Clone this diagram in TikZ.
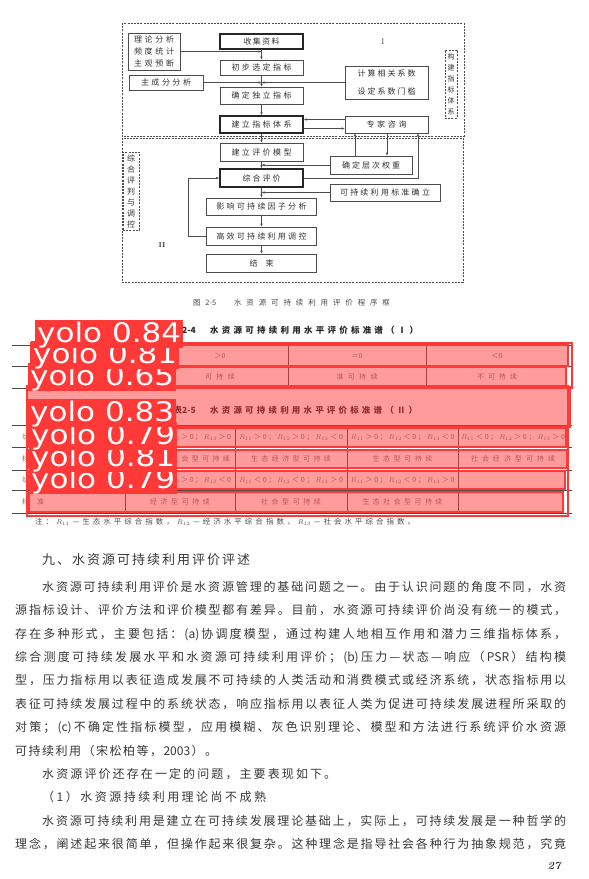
\documentclass[tikz,border=0pt]{standalone}
\usepackage{fontspec}
\usepackage{graphicx}
\usetikzlibrary{arrows.meta}
\newfontfamily\cjk{Noto Sans CJK SC}
\newfontfamily\tagfont{DejaVu Sans}
\definecolor{ink}{gray}{0.3}
\definecolor{yolored}{RGB}{255,56,56}
% spread a line of characters to a given width
\makeatletter
\def\spread@stop{\spread@end}
\newcommand\spread[2]{\makebox[#1][s]{\spread@first#2\spread@end}}
\def\spread@first#1{#1\spread@next}
\def\spread@next#1{\def\spread@cur{#1}\ifx\spread@cur\spread@stop\else\hfil#1\expandafter\spread@next\fi}
\makeatother
\tikzset{
  fbox/.style={draw=ink, line width=0.6pt, inner sep=0pt, text=black!80, font=\cjk\fontsize{8}{10}\selectfont},
  fboxb/.style={fbox, draw=black!85, line width=1.3pt},
  zone/.style={draw=ink, line width=0.7pt, dash pattern=on 2pt off 1.2pt},
  arr/.style={-{Latex[length=3pt,width=2.6pt]}, draw=ink, line width=0.6pt},
  cell/.style={inner sep=0pt, text=black!55, font=\cjk\fontsize{7}{8}\selectfont},
  body/.style={inner sep=0pt, anchor=base west, text=black!78, font=\cjk\fontsize{12}{14}\selectfont},
  rule/.style={draw=black!70, line width=0.5pt},
  hit/.style={draw=yolored, line width=2.6pt, fill=yolored, fill opacity=0.5},
  hitrim/.style={draw=yolored, line width=2.4pt},
  tag/.style={fill=yolored, text=white, anchor=north west, inner xsep=2pt, inner ysep=0pt, text height=22pt, text depth=6pt, font=\tagfont\fontsize{27}{27}\selectfont}
}
\begin{document}
\begin{tikzpicture}[x=1pt,y=-1pt]
\fill[white] (0,0) rectangle (589,879);
\useasboundingbox (0,0) rectangle (589,879);

% flow chart, part I
\draw[zone] (122,23) rectangle (464,136);
\draw[zone] (122,138) rectangle (463,282);
\node[fbox, minimum width=52pt, minimum height=37pt, align=left, font=\cjk\fontsize{8}{12}\selectfont] (theory) at (154,51.5) {\spread{40pt}{理论分析}\\\spread{40pt}{频度统计}\\\spread{40pt}{主观预断}};
\node[fboxb, minimum width=83pt, minimum height=15pt] (collect) at (261.5,41.5) {\spread{36pt}{收集资料}};
\node[fbox, minimum width=83pt, minimum height=15pt] (select) at (261.5,67.5) {\spread{60pt}{初步选定指标}};
\node[fbox, minimum width=74pt, minimum height=15pt] (pca) at (166,82.5) {\spread{50pt}{主成分分析}};
\node[fbox, minimum width=83pt, minimum height=33pt, align=center, font=\cjk\fontsize{8}{18}\selectfont] (corr) at (386.5,82.5) {\spread{58pt}{计算相关系数}\\\spread{58pt}{设定系数门槛}};
\node[fbox, minimum width=83pt, minimum height=17pt] (indep) at (261.5,95.5) {\spread{60pt}{确定独立指标}};
\node[fboxb, minimum width=83pt, minimum height=17pt] (system) at (261.5,124.5) {\spread{60pt}{建立指标体系}};
\node[fbox, minimum width=83pt, minimum height=17pt] (expert) at (386.5,124.5) {\spread{40pt}{专家咨询}};
\node[zone, minimum width=12pt, minimum height=68pt, inner sep=0pt, align=center, text=black!80, font=\cjk\fontsize{7}{11}\selectfont] (build) at (451,84) {构\\建\\指\\标\\体\\系};
\node[text=ink, inner sep=0pt, font=\fontsize{8}{8}\selectfont] (romanI) at (383,42) {I};

% flow chart, part II
\node[fbox, minimum width=83pt, minimum height=18pt] (model) at (261.5,152) {\spread{60pt}{建立评价模型}};
\node[fbox, minimum width=82pt, minimum height=18pt] (weight) at (371,165) {\spread{58pt}{确定层次权重}};
\node[fboxb, minimum width=83pt, minimum height=18pt] (assess) at (261.5,178) {\spread{38pt}{综合评价}};
\node[fbox, minimum width=110pt, minimum height=17pt] (std) at (385,192.5) {\spread{90pt}{可持续利用标准确立}};
\node[fbox, minimum width=110pt, minimum height=17pt] (factor) at (261.5,206.5) {\spread{90pt}{影响可持续因子分析}};
\node[fbox, minimum width=110pt, minimum height=18pt] (ctrl) at (261.5,236) {\spread{90pt}{高效可持续利用调控}};
\node[fbox, minimum width=110pt, minimum height=18pt] (finish) at (261.5,263) {\spread{24pt}{结束}};
\node[zone, minimum width=16pt, minimum height=78pt, inner sep=0pt, align=center, text=black!80, font=\cjk\fontsize{8}{11}\selectfont] (judge) at (131,191) {综\\合\\评\\判\\与\\调\\控};
\node[text=black!80, inner sep=0pt, font=\bfseries\fontsize{7}{7}\selectfont] (romanII) at (162,245) {II};

\coordinate (wup) at ([xshift=-16pt]weight.north);
\coordinate (wdn) at ([xshift=16pt]weight.north);
\coordinate (eside) at ([xshift=31.5pt]expert.south);
\draw[arr] (theory.east) -- (theory.east -| collect.south);
\draw[arr] (collect) -- (select);
\draw[arr] (pca) -- (pca -| select.south);
\draw[arr] (corr) -- (corr -| select.south);
\draw[arr] (select) -- (indep);
\draw[arr] (indep) -- (system);
\draw[arr] ([yshift=5pt]expert.west) -- ([yshift=5pt]system.east);
\draw[arr] ([yshift=-4pt]system.east) -- ([yshift=-4pt]expert.west);
\draw[arr] (system) -- (model);
\draw[arr] (wup) -- (wup |- expert.south);
\draw[arr] (wdn |- expert.south) -- (wdn);
\draw[arr] (assess.east) -| (eside);
\draw[arr] (weight) -- (weight -| model.south);
\draw[arr] (model) -- (assess);
\draw[arr] (std) -- (std -| assess.south);
\draw[arr] (assess) -- (factor);
\draw[arr] (factor) -- (ctrl);
\draw[arr] (ctrl) -- (finish);
\draw[arr] (ctrl.west) -- ++(-18,0) |- (assess.west);

\node[inner sep=0pt, text=black!70, font=\cjk\fontsize{7.5}{8}\selectfont] (caption) at (291.5,303) {\spread{197pt}{图{2-5}{\hspace{8pt}}水资源可持续利用评价程序框}};

% table 2-4
\node[anchor=east, inner sep=0pt, text=black!85, font=\cjk\bfseries\fontsize{8.5}{9}\selectfont] (t4no) at (196,330) {表2-4};
\node[anchor=west, inner sep=0pt, text=black!85, font=\cjk\bfseries\fontsize{8.5}{9}\selectfont] (t4) at (210,330) {\spread{208pt}{水资源可持续利用水平评价标准谱（Ⅰ）}};
\draw[rule, line width=1pt] (12,345) -- (572,345);
\draw[rule] (12,366) -- (572,366);
\draw[rule, line width=1pt] (12,388) -- (572,388);
\draw[rule] (148,345) -- (148,388);
\draw[rule] (288,345) -- (288,388);
\draw[rule] (426,345) -- (426,388);
\node[cell] (a1) at (220,356) {＞0};
\node[cell] (a2) at (357,356) {＝0};
\node[cell] (a3) at (497,356) {＜0};
\node[cell] (b1) at (220,377) {\spread{30pt}{可持续}};
\node[cell] (b2) at (357,377) {\spread{41pt}{准可持续}};
\node[cell] (b3) at (497,377) {\spread{40pt}{不可持续}};

% table 2-5
\node[anchor=east, inner sep=0pt, text=black!85, font=\cjk\bfseries\fontsize{8.5}{9}\selectfont] (t5no) at (196,410) {表2-5};
\node[anchor=west, inner sep=0pt, text=black!85, font=\cjk\bfseries\fontsize{8.5}{9}\selectfont] (t5) at (210,410) {\spread{207pt}{水资源可持续利用水平评价标准谱（Ⅱ）}};
\draw[rule, line width=1pt] (12,425) -- (572,425);
\draw[rule] (12,447) -- (572,447);
\draw[rule] (12,470) -- (572,470);
\draw[rule] (12,490) -- (572,490);
\draw[rule, line width=1pt] (12,513) -- (572,513);
\draw[rule] (125,425) -- (125,513);
\draw[rule] (235,425) -- (235,513);
\draw[rule] (347,425) -- (347,513);
\draw[rule] (458,425) -- (458,513);
\node[cell, anchor=west] (s1) at (22,437) {\spread{22pt}{状态}};
\node[cell, anchor=west] (n1) at (22,459) {\spread{22pt}{标准}};
\node[cell, anchor=west] (s2) at (22,480) {\spread{22pt}{状态}};
\node[cell, anchor=west] (n2) at (22,502) {\spread{22pt}{标准}};
\node[cell] (c11) at (180,437) {\spread{102pt}{{$R_{11}$}＞0；{$R_{12}$}＞0；{$R_{13}$}＞0}};
\node[cell] (c12) at (291,437) {\spread{104pt}{{$R_{11}$}＞0；{$R_{12}$}＞0；{$R_{13}$}＜0}};
\node[cell] (c13) at (402.5,437) {\spread{104pt}{{$R_{11}$}＞0；{$R_{12}$}＜0；{$R_{13}$}＜0}};
\node[cell] (c14) at (513,437) {\spread{104pt}{{$R_{11}$}＜0；{$R_{12}$}＞0；{$R_{13}$}＞0}};
\node[cell] (d11) at (180,459) {\spread{100pt}{生态经济社会型可持续}};
\node[cell] (d12) at (291,459) {\spread{80pt}{生态经济型可持续}};
\node[cell] (d13) at (402.5,459) {\spread{60pt}{生态型可持续}};
\node[cell] (d14) at (513,459) {\spread{84pt}{社会经济型可持续}};
\node[cell] (c21) at (180,480) {\spread{102pt}{{$R_{11}$}＜0；{$R_{12}$}＞0；{$R_{13}$}＜0}};
\node[cell] (c22) at (291,480) {\spread{104pt}{{$R_{11}$}＜0；{$R_{12}$}＜0；{$R_{13}$}＞0}};
\node[cell] (c23) at (402.5,480) {\spread{104pt}{{$R_{11}$}＞0；{$R_{12}$}＜0；{$R_{13}$}＞0}};
\node[cell] (d21) at (180,502) {\spread{60pt}{经济型可持续}};
\node[cell] (d22) at (291,502) {\spread{60pt}{社会型可持续}};
\node[cell] (d23) at (402.5,502) {\spread{80pt}{生态社会型可持续}};
\node[cell, anchor=west, text=black!70, font=\cjk\fontsize{7.5}{8}\selectfont] (note) at (35,522) {\spread{380pt}{注：{$R_{11}$}—生态水平综合指数，{$R_{12}$}—经济水平综合指数，{$R_{13}$}—社会水平综合指数。}};

% detections
\draw[hitrim] (31,343) rectangle (572,388);
\draw[hit] (33,345) rectangle (568,366);
\draw[hit] (31,367) rectangle (566,386);
\draw[hitrim] (27,386) rectangle (568,516);
\draw[hit] (27,387) rectangle (570,427);
\draw[hit] (29,428) rectangle (566,447);
\draw[hit] (29,450) rectangle (567,468);
\draw[hit] (29,471) rectangle (565,489);
\draw[hit] (29,492) rectangle (563,512);
\node[tag] (tag7) at (29,466) {\scalebox{1.15}[1]{yolo 0.79}};
\node[tag] (tag6) at (29,444) {\scalebox{1.15}[1]{yolo 0.81}};
\node[tag] (tag5) at (29,422) {\scalebox{1.15}[1]{yolo 0.79}};
\node[tag] (tag4) at (28,399) {\scalebox{1.15}[1]{yolo 0.83}};
\node[tag] (tag3) at (28,363) {\scalebox{1.15}[1]{yolo 0.65}};
\node[tag] (tag2) at (31,341) {\scalebox{1.15}[1]{yolo 0.81}};
\node[tag] (tag1) at (35,320) {\scalebox{1.15}[1]{yolo 0.84}};

% text of the page
\node[body, font=\cjk\fontsize{13}{15}\selectfont] (head) at (42,564) {\spread{208pt}{九、水资源可持续利用评价评述}};
\node[body] (line1) at (42,591) {\spread{524pt}{水资源可持续利用评价是水资源管理的基础问题之一。由于认识问题的角度不同，水资}};
\node[body] (line2) at (15,614.5) {\spread{551pt}{源指标设计、评价方法和评价模型都有差异。目前，水资源可持续评价尚没有统一的模式，}};
\node[body] (line3) at (15,638) {\spread{551pt}{存在多种形式，主要包括：{(a)}协调度模型，通过构建人地相互作用和潜力三维指标体系，}};
\node[body] (line4) at (15,661.5) {\spread{551pt}{综合测度可持续发展水平和水资源可持续利用评价；{(b)}压力—状态—响应（{PSR}）结构模}};
\node[body] (line5) at (15,684.5) {\spread{551pt}{型，压力指标用以表征造成发展不可持续的人类活动和消费模式或经济系统，状态指标用以}};
\node[body] (line6) at (15,708) {\spread{551pt}{表征可持续发展过程中的系统状态，响应指标用以表征人类为促进可持续发展进程所采取的}};
\node[body] (line7) at (15,731.5) {\spread{551pt}{对策；{(c)}不确定性指标模型，应用模糊、灰色识别理论、模型和方法进行系统评价水资源}};
\node[body] (line8) at (15,755) {\spread{202pt}{可持续利用（宋松柏等，{2003}）。}};
\node[body] (line9) at (42,778.5) {\spread{294pt}{水资源评价还存在一定的问题，主要表现如下。}};
\node[body] (line10) at (42,801.5) {\spread{224pt}{（1）水资源持续利用理论尚不成熟}};
\node[body] (line11) at (42,825) {\spread{524pt}{水资源可持续利用是建立在可持续发展理论基础上，实际上，可持续发展是一种哲学的}};
\node[body] (line12) at (15,848.5) {\spread{551pt}{理念，阐述起来很简单，但操作起来很复杂。这种理念是指导社会各种行为抽象规范，究竟}};
\node[inner sep=0pt, text=black!85, font=\bfseries\itshape\fontsize{11}{11}\selectfont] (pageno) at (554,866) {27};
\end{tikzpicture}
\end{document}
